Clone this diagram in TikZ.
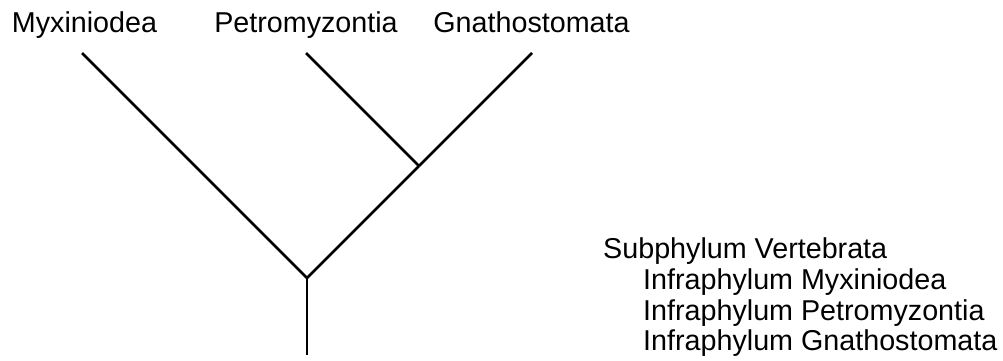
\documentclass[tikz,border=0pt]{standalone}
\usepackage{fontspec}
\setmainfont{Liberation Sans}
\begin{document}
\begin{tikzpicture}[x=1pt,y=-1pt,
  branch/.style={line width=2.8pt,line cap=butt,line join=miter},
  lbl/.style={font=\fontsize{28.7}{30}\selectfont,inner sep=0pt,anchor=base},
  txt/.style={font=\fontsize{28.7}{30}\selectfont,inner sep=0pt,anchor=base west}]
\useasboundingbox (0,0) rectangle (1003,360);
% tree points
\coordinate (lm) at (82,53);
\coordinate (lp) at (306,53);
\coordinate (lg) at (532,53);
\coordinate (inner) at (419,166);
\coordinate (root) at (307,278);
\coordinate (base) at (307,355);
\draw[branch] (lm) -- (root);
\draw[branch] (lp) -- (inner);
\draw[branch] (lg) -- (inner);
\draw[branch] (inner) -- (root);
\draw[branch] (root) -- (base);
% leaf labels
\node[lbl] (tm) at (84.5,32) {Myxiniodea};
\node[lbl] (tp) at (306,32) {Petromyzontia};
\node[lbl] (tg) at (531.5,32) {Gnathostomata};
% classification
\node[txt] (c0) at (603,258) {Subphylum Vertebrata};
\node[txt] (c1) at (643,289) {Infraphylum Myxiniodea};
\node[txt] (c2) at (643,320) {Infraphylum Petromyzontia};
\node[txt] (c3) at (643,350) {Infraphylum Gnathostomata};
\end{tikzpicture}
\end{document}
